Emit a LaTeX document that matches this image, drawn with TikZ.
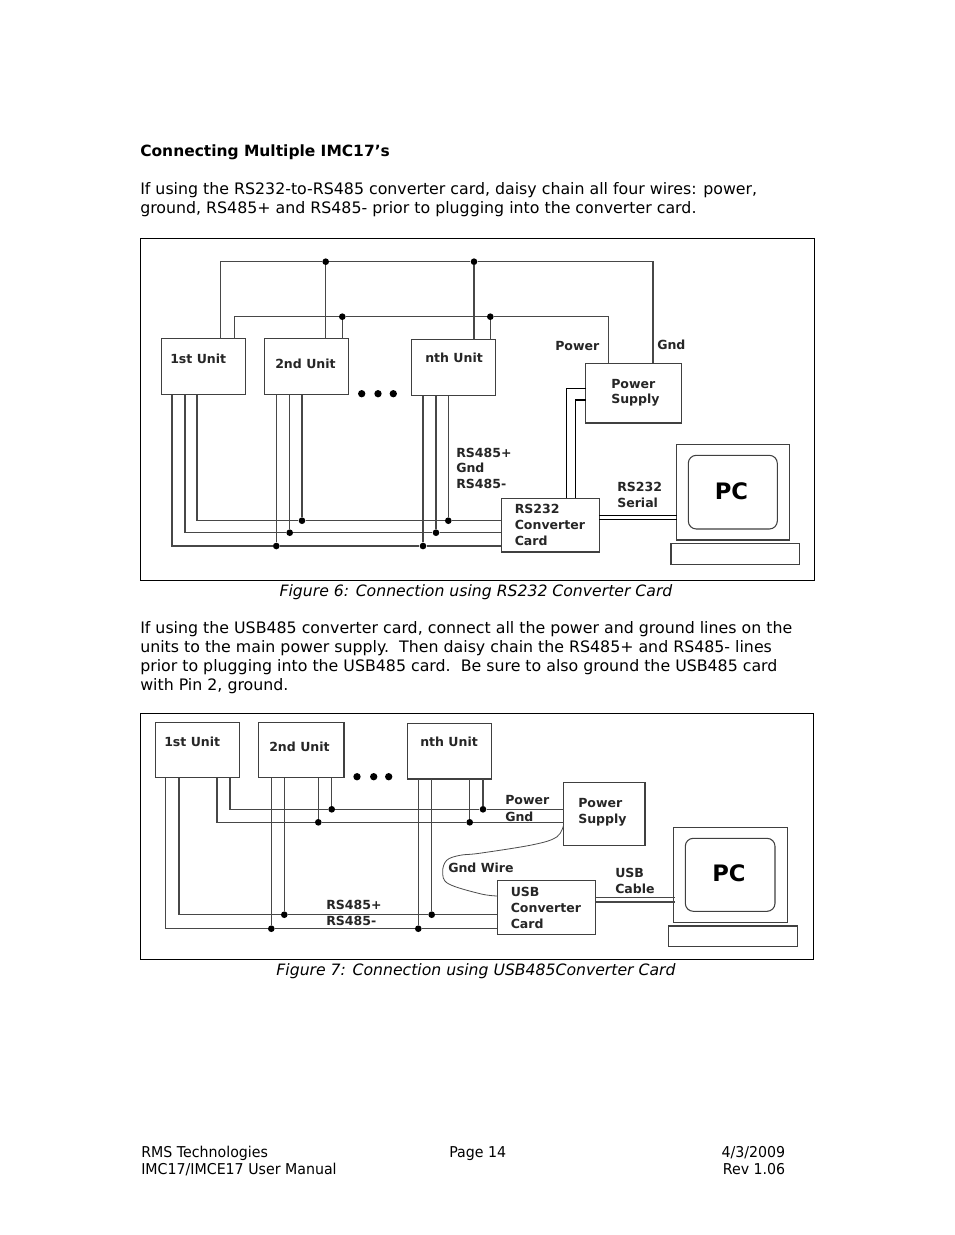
\documentclass[tikz,border=0pt]{standalone}
\usepackage{fontspec}
\setmainfont{DejaVu Sans}
\newfontfamily\footfont[FakeStretch=0.95]{DejaVu Sans}
\usetikzlibrary{calc}
\def\partbox[#1](#2,#3)(#4,#5){\node[#1, minimum width={(#4-#2)*0.75pt}, minimum height={(#5-#3)*0.75pt}] at ({(#2+#4)/2},{(#3+#5)/2})}
\tikzset{
	wire/.style={line width=0.8pt, color=black!72},
	box/.style={draw, line width=0.8pt, color=black!75, inner sep=0pt, outer sep=0pt},
	panel/.style={draw, line width=0.75pt, inner sep=0pt, outer sep=0pt},
	jdot/.style={circle, fill=black, inner sep=0pt, minimum size=5pt},
	lab/.style={font=\fontsize{9.4}{11}\selectfont\bfseries, text=black!85, inner sep=0pt, anchor=west},
	para/.style={font=\fontsize{11.85}{14}\selectfont, inner sep=0pt, anchor=west},
	captn/.style={font=\fontsize{11.75}{14}\selectfont\itshape, inner sep=0pt},
	foot/.style={font=\footfont\fontsize{11.2}{13}\selectfont, inner sep=0pt, text height=8pt, text depth=2.5pt}
}
\begin{document}
\begin{tikzpicture}[x=0.75pt, y=-0.75pt]
	\useasboundingbox[fill=white] (0, 0) rectangle (954, 1235);

	%%%%% TEXT %%%%%
	\node[para, font=\fontsize{11.6}{14}\selectfont\bfseries] (title) at (140, 152.5) {Connecting Multiple IMC17’s};
	\node[para] (tA) at (140, 190.5) {If using the RS232-to-RS485 converter card, daisy chain all four wires: power,};
	\node[para] (tB) at (140, 209.5) {ground, RS485+ and RS485- prior to plugging into the converter card.};
	\node[captn] (capA) at (476, 592.5) {Figure 6: Connection using RS232 Converter Card};
	\node[para] (tC) at (140, 629.5) {If using the USB485 converter card, connect all the power and ground lines on the};
	\node[para] (tD) at (140, 648.5) {units to the main power supply.\ \ Then daisy chain the RS485+ and RS485- lines};
	\node[para] (tE) at (140, 667.5) {prior to plugging into the USB485 card.\ \ Be sure to also ground the USB485 card};
	\node[para] (tF) at (140, 686.5) {with Pin 2, ground.};
	\node[captn] (capB) at (476, 971.5) {Figure 7: Connection using USB485Converter Card};
	\node[foot, anchor=west] (fA) at (141, 1153.6) {RMS Technologies};
	\node[foot, anchor=west] (fB) at (141, 1170.6) {IMC17/IMCE17 User Manual};
	\node[foot, anchor=west] (fC) at (449, 1153.6) {Page 14};
	\node[foot, anchor=east] (fD) at (785.5, 1153.6) {4/3/2009};
	\node[foot, anchor=east] (fE) at (785.5, 1170.6) {Rev 1.06};

	%%%%% FIGURE 6 %%%%%
	\partbox[panel](140.5,238.5)(814.5,580.5) (panA) {};
	\partbox[box](161.5,338.7)(245.5,394.7) (unitA) {};
	\partbox[box](264.3,338.7)(348.7,394.7) (unitB) {};
	\partbox[box](411.7,339.7)(495.3,395.7) (unitN) {};
	\partbox[box](585.7,363.3)(681.3,423) (psuA) {};
	\partbox[box](501.3,498.3)(599.3,552) (convA) {};
	\partbox[box](676.3,444.3)(789.3,540) (pcA) {};
	\partbox[box, rounded corners=6pt](688.3,455.3)(777.3,529) (scrA) {};
	\partbox[box](671,543.7)(799.3,564.3) (keyA) {};

	\node[lab] (lA) at (170, 359) {1st Unit};
	\node[lab] (lB) at (275, 363.5) {2nd Unit};
	\node[lab] (lC) at (425, 358) {nth Unit};
	\node[lab] (lD) at (555, 346) {Power};
	\node[lab] (lE) at (657, 345) {Gnd};
	\node[lab] (lF) at (611, 384) {Power};
	\node[lab] (lG) at (611, 400) {Supply};
	\node[lab] (lH) at (456, 453) {RS485+};
	\node[lab] (lI) at (456, 468) {Gnd};
	\node[lab] (lJ) at (456, 484) {RS485-};
	\node[lab] (lK) at (514.5, 508.5) {RS232};
	\node[lab] (lL) at (514.5, 525) {Converter};
	\node[lab] (lM) at (514.5, 541) {Card};
	\node[lab] (lN) at (617, 487) {RS232};
	\node[lab] (lO) at (617, 502.5) {Serial};
	\node[lab, anchor=center, font=\fontsize{17}{20}\selectfont\bfseries, text=black] (lP) at (731.5, 491) {PC};

	\foreach \x/\n in {361.7/a, 378/b, 393.3/c}
		\node[jdot, minimum size=5.5pt] (more\n) at (\x, 393.7) {};

	\node[jdot] (pwrB) at (325.7, 261.7) {};
	\node[jdot] (pwrN) at (474, 261.7) {};
	\node[jdot] (gndB) at (342.3, 316.7) {};
	\node[jdot] (gndN) at (490.3, 316.7) {};
	\coordinate (pwrA) at (220.3, 338.7);
	\coordinate (gndA) at (234.7, 338.7);
	\coordinate (pwrP) at (653, 363.3);
	\coordinate (gndP) at (608.3, 363.3);
	\draw[wire] (pwrA) |- (pwrB) -- (pwrN) -| (pwrP);
	\draw[wire] (gndA) |- (gndB) -- (gndN) -| (gndP);
	\draw[wire] (pwrB) -- (pwrB |- unitB.north);
	\draw[wire] (pwrN) -- (pwrN |- unitN.north);
	\draw[wire] (gndB) -- (gndB |- unitB.north);
	\draw[wire] (gndN) -- (gndN |- unitN.north);

	\node[jdot] (busAb) at (302, 520.7) {};
	\node[jdot] (busAn) at (448.3, 520.7) {};
	\node[jdot] (busBb) at (289.7, 532.7) {};
	\node[jdot] (busBn) at (436, 532.7) {};
	\node[jdot] (busCb) at (276.3, 546) {};
	\node[jdot] (busCn) at (423, 546) {};
	\coordinate (uAa) at (197, 394.7);
	\coordinate (uAb) at (185, 394.7);
	\coordinate (uAc) at (172, 394.7);
	\draw[wire] (uAa) |- (busAb) -- (busAn) -- (busAn -| convA.west);
	\draw[wire] (uAb) |- (busBb) -- (busBn) -- (busBn -| convA.west);
	\draw[wire] (uAc) |- (busCb) -- (busCn) -- (busCn -| convA.west);
	\foreach \d in {busAb, busBb, busCb}
		\draw[wire] (\d) -- (\d |- unitB.south);
	\foreach \d in {busAn, busBn, busCn}
		\draw[wire] (\d) -- (\d |- unitN.south);

	\coordinate (psA) at (585.7, 388.7);
	\coordinate (psB) at (585.7, 400);
	\coordinate (cvA) at (566.3, 498.3);
	\coordinate (cvB) at (575.7, 498.3);
	\draw[wire, color=black] (psA) -| (cvA);
	\draw[wire, color=black] (psB) -| (cvB);
	\coordinate (serA) at (599.3, 515.3);
	\coordinate (serB) at (599.3, 519.7);
	\coordinate (pcPortA) at (677.3, 515.3);
	\coordinate (pcPortB) at (677.3, 519.7);
	\draw[wire, color=black] (serA) -- (pcPortA);
	\draw[wire, color=black] (serB) -- (pcPortB);

	%%%%% FIGURE 7 %%%%%
	\partbox[panel](140.5,713.5)(813.7,959.5) (panB) {};
	\partbox[box](155.3,722.3)(239.7,777.7) (unitC) {};
	\partbox[box](258.7,722.3)(344,777.7) (unitD) {};
	\partbox[box](407.3,723.7)(491.3,779) (unitM) {};
	\partbox[box](563.7,782.7)(645,845.3) (psuB) {};
	\partbox[box](497.3,880.7)(595.7,934.3) (convB) {};
	\partbox[box](673.3,827.3)(787.3,922.3) (pcB) {};
	\partbox[box, rounded corners=6pt](685.3,838.3)(775,911.3) (scrB) {};
	\partbox[box](668.3,926)(797.7,946.7) (keyB) {};

	\node[lab] (mA) at (164, 742) {1st Unit};
	\node[lab] (mB) at (269, 746.5) {2nd Unit};
	\node[lab] (mC) at (420, 741.5) {nth Unit};
	\node[lab] (mD) at (505, 800) {Power};
	\node[lab] (mE) at (505, 816.5) {Gnd};
	\node[lab] (mF) at (578, 803) {Power};
	\node[lab] (mG) at (578, 820) {Supply};
	\node[lab] (mH) at (448, 868) {Gnd Wire};
	\node[lab] (mI) at (510.5, 892) {USB};
	\node[lab] (mJ) at (510.5, 907.5) {Converter};
	\node[lab] (mK) at (510.5, 923.5) {Card};
	\node[lab] (mL) at (615, 873) {USB};
	\node[lab] (mM) at (615, 889) {Cable};
	\node[lab] (mN) at (326, 905) {RS485+};
	\node[lab] (mO) at (326, 921) {RS485-};
	\node[lab, anchor=center, font=\fontsize{17}{20}\selectfont\bfseries, text=black] (mP) at (729, 873.5) {PC};

	\foreach \x/\n in {357/a, 373.7/b, 388.7/c}
		\node[jdot, minimum size=5.5pt] (dots\n) at (\x, 776.7) {};

	\node[jdot] (bpD) at (331.7, 809.3) {};
	\node[jdot] (bpM) at (483, 809.3) {};
	\node[jdot] (bgD) at (318.3, 822.3) {};
	\node[jdot] (bgM) at (469.7, 822.3) {};
	\coordinate (vpC) at (230, 777.7);
	\coordinate (vgC) at (217, 777.7);
	\draw[wire] (vpC) |- (bpD) -- (bpM) -- (bpM -| psuB.west);
	\draw[wire] (vgC) |- (bgD) -- (bgM) -- (bgM -| psuB.west);
	\foreach \d in {bpD, bgD}
		\draw[wire] (\d) -- (\d |- unitD.south);
	\foreach \d in {bpM, bgM}
		\draw[wire] (\d) -- (\d |- unitM.south);

	\node[jdot] (rpD) at (284.3, 914.7) {};
	\node[jdot] (rpM) at (431.7, 914.7) {};
	\node[jdot] (rmD) at (271.3, 928.7) {};
	\node[jdot] (rmM) at (418.3, 928.7) {};
	\coordinate (vrC) at (179, 777.7);
	\coordinate (vsC) at (165.7, 777.7);
	\draw[wire] (vrC) |- (rpD) -- (rpM) -- (rpM -| convB.west);
	\draw[wire] (vsC) |- (rmD) -- (rmM) -- (rmM -| convB.west);
	\foreach \d in {rpD, rmD}
		\draw[wire] (\d) -- (\d |- unitD.south);
	\foreach \d in {rpM, rmM}
		\draw[wire] (\d) -- (\d |- unitM.south);

	\coordinate (gwA) at (563.7, 824.7);
	\coordinate (gwB) at (497.3, 896);
	\draw[line width=0.6pt, color=black!70] plot[smooth, tension=0.6] coordinates {(gwA) (556.7, 837) (533, 844.7) (480, 853.2) (460, 855.3) (446.7, 860.3) (442.7, 872) (448.3, 883.7) (480, 893.7) (gwB)};

	\coordinate (usA) at (595.7, 897.7);
	\coordinate (usB) at (595.7, 902);
	\coordinate (pcPortC) at (674.7, 897.7);
	\coordinate (pcPortD) at (674.7, 902);
	\draw[wire] (usA) -- (pcPortC);
	\draw[wire] (usB) -- (pcPortD);
\end{tikzpicture}
\end{document}
